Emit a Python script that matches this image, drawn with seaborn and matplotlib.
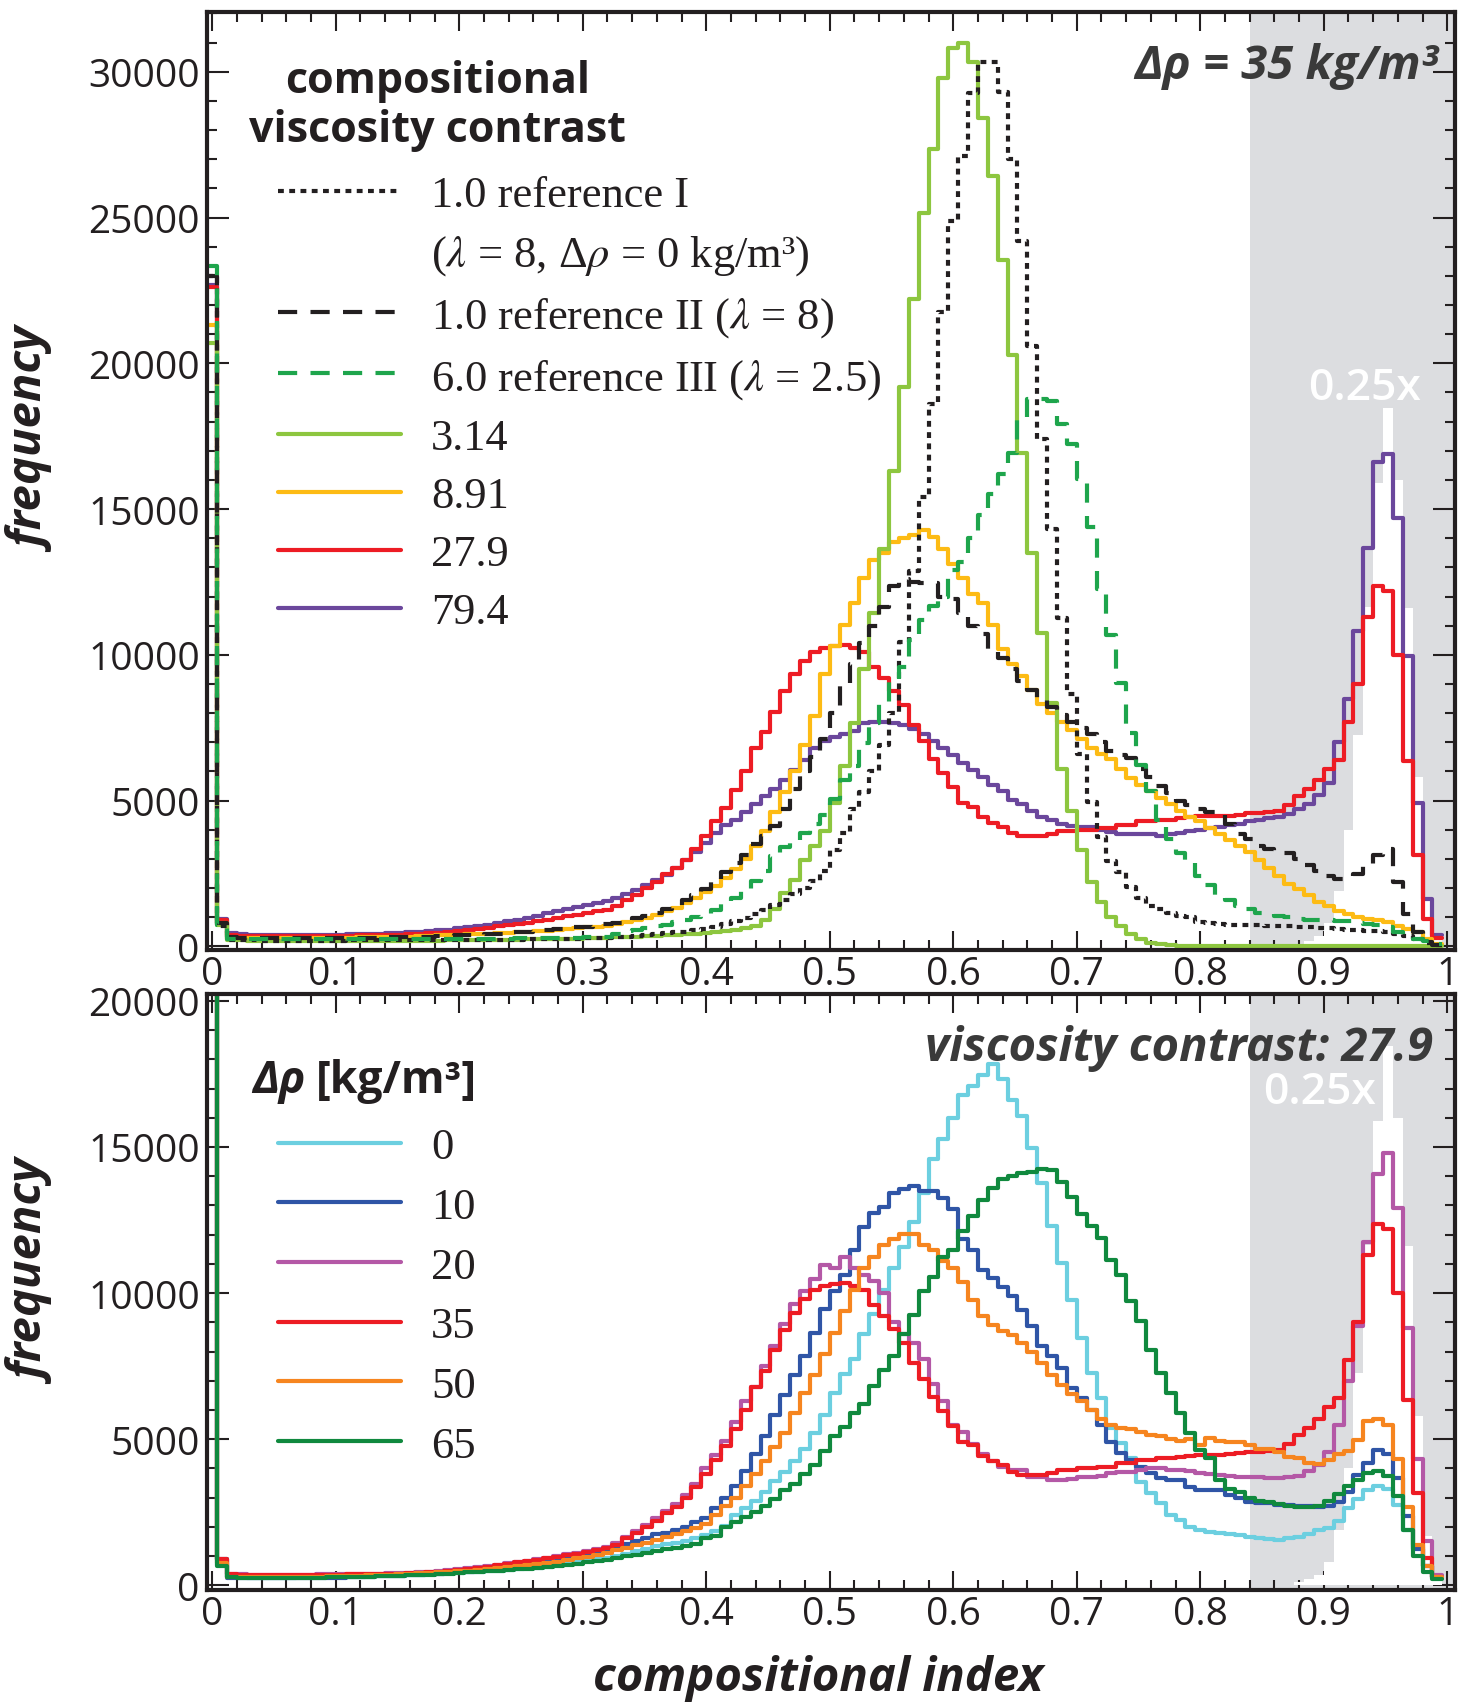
import numpy as np
import matplotlib
matplotlib.use("Agg")
import matplotlib.pyplot as plt
import seaborn as sns
from matplotlib.lines import Line2D
from matplotlib.ticker import MultipleLocator

# histogram of the compositional index: 125 bins of width 0.008 centred on k*0.008
BIN_WIDTH = 0.008
N_BINS = 125

# ---------------- top panel (delta rho = 35 kg/m3), counts per bin ----------------
REF_I = [
    23000, 700, 230, 220, 210, 200, 200, 200, 200, 200,
    200, 200, 200, 200, 205, 205, 210, 210, 210, 215,
    215, 220, 220, 225, 225, 230, 230, 230, 230, 230,
    230, 235, 240, 245, 250, 255, 260, 270, 280, 290,
    300, 320, 340, 365, 390, 420, 450, 480, 510, 550,
    600, 680, 760, 860, 970, 1100, 1250, 1420, 1600, 1800,
    2000, 2250, 2580, 3300, 3900, 4700, 5300, 6000, 6900, 8000,
    10430, 12880, 15400, 18600, 21750, 24890, 27125, 29280, 30330, 30330,
    29300, 27010, 24210, 20600, 17420, 14305, 11250, 8650, 6610, 4960,
    3750, 2920, 2540, 2030, 1650, 1400, 1300, 1140, 1050, 1000,
    850, 820, 760, 750, 740, 730, 720, 710, 700, 690,
    680, 660, 640, 620, 600, 580, 560, 540, 520, 480,
    420, 350, 250, 120, 40,
]
REF_II = [
    23000, 800, 320, 300, 290, 280, 280, 280, 280, 280,
    285, 285, 290, 290, 295, 300, 300, 305, 310, 315,
    320, 330, 340, 350, 360, 375, 390, 405, 420, 440,
    460, 480, 500, 530, 560, 590, 620, 650, 680, 720,
    760, 820, 880, 960, 1050, 1150, 1280, 1420, 1580, 1760,
    1980, 2250, 2550, 2860, 3150, 3500, 3800, 4120, 4700, 5400,
    6000, 6500, 7100, 8000, 9000, 9700, 10400, 11000, 11650, 12350,
    12600, 12500, 12450, 12450, 12000, 11900, 11450, 11000, 10700, 10200,
    9900, 9500, 9100, 8800, 8500, 8200, 7950, 7700, 7500, 7300,
    7000, 6700, 6550, 6450, 6100, 5800, 5500, 5250, 5000, 4850,
    4700, 4620, 4550, 4200, 3850, 3700, 3450, 3330, 3280, 3220,
    3000, 2800, 2600, 2400, 2300, 2350, 2480, 2800, 3120, 3330,
    2200, 1100, 500, 150, 50,
]
REF_III = [
    23350, 750, 260, 250, 240, 240, 240, 240, 240, 240,
    240, 240, 242, 242, 244, 244, 246, 246, 248, 248,
    250, 250, 255, 255, 260, 260, 262, 265, 265, 268,
    270, 275, 280, 285, 290, 295, 300, 305, 310, 315,
    330, 420, 515, 560, 620, 690, 750, 830, 915, 1000,
    1120, 1260, 1450, 1660, 1900, 2230, 2600, 3090, 3400, 3650,
    3890, 4200, 4520, 5040, 5700, 6180, 6980, 7670, 8400, 9160,
    9600, 10500, 11200, 11660, 12000, 12900, 13200, 14000, 14800, 15520,
    16190, 16930, 18100, 18770, 18760, 18700, 17930, 17230, 16020, 14370,
    12270, 10680, 9030, 7310, 6230, 5340, 4320, 3690, 3200, 2860,
    2400, 2100, 1780, 1600, 1400, 1300, 1150, 1100, 1050, 1000,
    950, 920, 900, 890, 880, 860, 820, 780, 750, 650,
    500, 400, 270, 200, 100,
]
VC_3_14 = [
    20700, 750, 230, 210, 200, 195, 190, 190, 185, 185,
    185, 185, 185, 185, 185, 185, 190, 190, 190, 190,
    195, 195, 200, 200, 205, 205, 210, 215, 220, 225,
    230, 235, 240, 245, 250, 255, 260, 270, 280, 290,
    300, 310, 320, 335, 350, 365, 380, 400, 420, 440,
    460, 490, 520, 560, 620, 700, 915, 1300, 1830, 2290,
    2980, 3435, 3950, 4920, 6180, 7670, 9500, 11450, 13620, 16320,
    19200, 22200, 25150, 27350, 29800, 30800, 31000, 30350, 28400, 26430,
    23550, 20300, 16930, 13500, 10740, 8345, 6100, 4640, 3300, 2225,
    1525, 1015, 700, 440, 250, 130, 80, 50, 30, 20,
    10, 10, 5, 0, 0, 0, 0, 0, 0, 0,
    0, 0, 0, 0, 0, 0, 0, 0, 0, 0,
    0, 0, 0, 0, 0,
]
VC_8_91 = [
    21300, 800, 300, 290, 285, 285, 285, 285, 285, 285,
    290, 290, 295, 300, 305, 310, 315, 320, 325, 330,
    340, 350, 360, 375, 390, 400, 410, 420, 430, 445,
    460, 480, 500, 520, 540, 565, 590, 620, 650, 680,
    700, 760, 830, 900, 990, 1080, 1200, 1330, 1480, 1650,
    1850, 2080, 2350, 2650, 3000, 3450, 3950, 4600, 5300, 6000,
    6900, 7900, 9330, 10310, 11040, 11780, 12640, 13250, 13500, 13860,
    14000, 14110, 14290, 14050, 13620, 13130, 12640, 12090, 11780, 11040,
    10190, 9690, 9270, 8800, 8300, 8000, 7690, 7440, 7120, 6800,
    6600, 6420, 6100, 5785, 5530, 5340, 5085, 4890, 4640, 4450,
    4300, 4050, 3850, 3650, 3450, 3250, 2950, 2700, 2400, 2150,
    1960, 1750, 1540, 1380, 1220, 1100, 1010, 950, 905, 850,
    695, 600, 485, 270, 80,
]
# viscosity contrast 27.9 with delta rho = 35: same run in both panels
VC_27_9 = [
    22600, 900, 380, 360, 350, 350, 350, 350, 350, 355,
    355, 360, 360, 365, 370, 375, 380, 385, 395, 400,
    410, 425, 445, 470, 500, 530, 560, 600, 640, 690,
    740, 780, 820, 865, 920, 980, 1030, 1080, 1150, 1200,
    1265, 1380, 1605, 1780, 2010, 2200, 2470, 2690, 2980, 3350,
    3800, 4300, 4750, 5350, 6000, 6800, 7350, 8050, 8750, 9330,
    9800, 10100, 10250, 10300, 10350, 10250, 10100, 9600, 9200, 8775,
    8280, 7610, 7060, 6445, 5955, 5465, 4915, 4795, 4425, 4245,
    4100, 3890, 3775, 3775, 3775, 3850, 3950, 3950, 4005, 4005,
    4060, 4060, 4180, 4180, 4290, 4290, 4350, 4350, 4405, 4430,
    4465, 4465, 4465, 4490, 4520, 4577, 4577, 4600, 4635, 4850,
    5150, 5400, 5700, 6100, 6400, 7700, 9000, 11300, 12350, 12200,
    10000, 6350, 3150, 950, 280,
]
VC_79_4 = [
    22700, 950, 450, 420, 400, 390, 385, 385, 385, 390,
    390, 395, 400, 405, 410, 420, 430, 440, 450, 465,
    480, 500, 520, 550, 580, 620, 660, 700, 750, 800,
    860, 920, 990, 1060, 1130, 1200, 1280, 1360, 1430, 1500,
    1550, 1650, 1800, 1950, 2100, 2280, 2450, 2680, 2950, 3250,
    3550, 3900, 4150, 4350, 4600, 4900, 5150, 5400, 5700, 6050,
    6400, 6800, 7050, 7200, 7300, 7400, 7650, 7700, 7700, 7650,
    7600, 7450, 7300, 7050, 6800, 6550, 6300, 6050, 5800, 5550,
    5340, 5020, 4890, 4640, 4450, 4320, 4190, 4130, 4100, 4080,
    4000, 3940, 3850, 3850, 3850, 3870, 3800, 3850, 3900, 3950,
    4000, 4050, 4100, 4150, 4200, 4300, 4350, 4400, 4450, 4550,
    4700, 4900, 5200, 5600, 7015, 8490, 10810, 13650, 16600, 16875,
    14700, 9965, 4910, 1640, 380,
]
# white "0.25x" histogram inside the grey band
SCALED_025 = [0] * 110 + [
    100, 200, 350, 800, 1900, 4000, 7250, 11650, 15900, 18450,
    16000, 11600, 5800, 1700, 300,
]

# ---------------- bottom panel (viscosity contrast 27.9), counts per bin ----------------
RHO_0 = [
    23000, 700, 280, 270, 265, 265, 265, 265, 265, 270,
    270, 275, 280, 285, 290, 300, 305, 315, 325, 335,
    345, 360, 375, 390, 410, 425, 440, 460, 480, 500,
    520, 545, 575, 605, 640, 690, 740, 790, 840, 900,
    950, 1010, 1080, 1160, 1250, 1330, 1400, 1460, 1530, 1610,
    1720, 1850, 2040, 2405, 2650, 2895, 3200, 3570, 3875, 4245,
    4670, 5220, 5835, 6570, 7240, 7735, 8590, 9300, 10100, 10850,
    11590, 12445, 13425, 14590, 15260, 15995, 16790, 17100, 17465, 17855,
    17340, 16610, 16060, 14980, 13775, 12290, 11035, 9775, 8465, 7265,
    6405, 5380, 4865, 4350, 3550, 3150, 2810, 2405, 2235, 2005,
    1900, 1835, 1780, 1750, 1720, 1650, 1610, 1570, 1550, 1610,
    1650, 1750, 1880, 1950, 2200, 2660, 2950, 3255, 3400, 3300,
    2750, 1880, 1305, 655, 300,
]
RHO_10 = [
    23000, 900, 260, 250, 245, 245, 245, 245, 250, 250,
    255, 255, 260, 265, 275, 285, 295, 305, 315, 330,
    345, 360, 380, 400, 420, 440, 465, 490, 520, 550,
    590, 630, 680, 730, 790, 850, 910, 980, 1050, 1130,
    1210, 1300, 1400, 1500, 1620, 1740, 1800, 1900, 2000, 2150,
    2300, 2650, 3000, 3400, 3900, 4500, 5100, 5835, 6505, 7180,
    7855, 8650, 9450, 10060, 10610, 11465, 12260, 12750, 12935, 13425,
    13545, 13670, 13485, 13485, 13240, 12875, 11835, 11465, 10800, 10500,
    10200, 9900, 9435, 8865, 8175, 7835, 7435, 6750, 6405, 6005,
    5490, 4920, 4520, 4300, 4060, 3835, 3665, 3605, 3605, 3380,
    3265, 3265, 3265, 3100, 2980, 2865, 2805, 2805, 2750, 2750,
    2720, 2700, 2680, 2700, 2850, 3180, 3760, 4190, 4625, 4480,
    3685, 2385, 1235, 655, 300,
]
RHO_20 = [
    23000, 850, 390, 370, 360, 360, 360, 360, 360, 365,
    365, 370, 375, 380, 385, 390, 395, 400, 410, 415,
    425, 440, 460, 485, 515, 545, 580, 620, 660, 705,
    750, 790, 835, 885, 940, 1000, 1055, 1110, 1180, 1240,
    1310, 1440, 1660, 1850, 2080, 2290, 2550, 2780, 3080, 3480,
    4000, 4450, 4950, 5600, 6300, 6800, 7500, 8200, 8950, 9630,
    10060, 10485, 10975, 10855, 11220, 10855, 10610, 10425, 9995, 9000,
    8600, 8300, 7750, 6900, 6300, 5500, 5250, 4850, 4500, 4245,
    4060, 3935, 3935, 3690, 3690, 3600, 3600, 3650, 3720, 3720,
    3750, 3850, 3890, 3890, 3950, 4000, 4005, 3950, 3950, 3900,
    3835, 3800, 3775, 3750, 3720, 3700, 3700, 3665, 3665, 3700,
    3750, 3900, 4100, 4550, 5500, 7000, 8880, 11760, 14070, 14795,
    12920, 8810, 4335, 1520, 365,
]
RHO_35 = VC_27_9
RHO_50 = [
    23000, 750, 300, 290, 285, 285, 285, 285, 290, 290,
    295, 300, 305, 310, 320, 330, 340, 350, 360, 375,
    390, 405, 420, 440, 460, 480, 500, 525, 550, 580,
    610, 645, 680, 720, 760, 810, 860, 920, 980, 1050,
    1120, 1200, 1280, 1370, 1460, 1550, 1650, 1750, 1850, 1950,
    2100, 2400, 2700, 3000, 3400, 3800, 4250, 4730, 5220, 5900,
    6570, 7180, 7915, 8650, 9385, 10120, 10855, 11220, 11650, 11835,
    12015, 12015, 11650, 11465, 11100, 10855, 10365, 9755, 9200, 8900,
    8700, 8550, 8300, 8000, 7600, 7200, 6850, 6550, 6300, 6000,
    5700, 5500, 5400, 5350, 5250, 5150, 5100, 5000, 4950, 5000,
    4800, 5050, 4950, 4900, 4900, 4800, 4650, 4650, 4550, 4400,
    4350, 4200, 4150, 4300, 4500, 4600, 4985, 5630, 5705, 5490,
    4335, 2680, 1380, 655, 300,
]
RHO_65 = [
    23500, 650, 280, 260, 255, 255, 255, 255, 260, 260,
    265, 265, 270, 275, 280, 290, 300, 310, 320, 330,
    340, 350, 365, 380, 400, 420, 440, 460, 480, 500,
    520, 545, 570, 600, 630, 660, 700, 740, 780, 830,
    880, 930, 990, 1050, 1110, 1170, 1230, 1290, 1350, 1425,
    1610, 1670, 1980, 2160, 2350, 2500, 2710, 2955, 3265, 3450,
    3815, 4120, 4610, 5100, 5405, 5895, 6200, 6815, 7365, 7855,
    8590, 9265, 10060, 10550, 11220, 11465, 12140, 12630, 13180, 13610,
    13900, 14000, 14100, 14150, 14250, 14200, 13800, 13300, 12700, 12300,
    11900, 11145, 10635, 9720, 9035, 8065, 7265, 6580, 5890, 5205,
    4635, 4350, 3605, 3300, 3200, 3000, 2900, 2850, 2780, 2720,
    2680, 2680, 2700, 2895, 3110, 3400, 3615, 3830, 3900, 3755,
    3040, 1880, 1015, 440, 220,
]

XTICKS = [0, 0.1, 0.2, 0.3, 0.4, 0.5, 0.6, 0.7, 0.8, 0.9, 1.0]
XTICK_LABELS = ["0", "0.1", "0.2", "0.3", "0.4", "0.5", "0.6", "0.7", "0.8", "0.9", "1"]
TOP_YTICKS = [0, 5000, 10000, 15000, 20000, 25000, 30000]
BOTTOM_YTICKS = [0, 5000, 10000, 15000, 20000]

TOP_LEGEND_LABELS = [
    "1.0 reference I",
    "($\\lambda$ = 8, \u0394$\\rho$ = 0 kg/m\u00b3)",
    "1.0 reference II ($\\lambda$ = 8)",
    "6.0 reference III ($\\lambda$ = 2.5)",
    "3.14", "8.91", "27.9", "79.4",
]
BOTTOM_LEGEND_LABELS = ["0", "10", "20", "35", "50", "65"]

# colours / styles
INK = "#231f20"
GREY_TXT = "#3a3a3a"
BAND = "#dcdde0"
C_LGREEN = "#8dc63f"
C_YELLOW = "#fdbb14"
C_RED = "#ed1c24"
C_PURPLE = "#6b479c"
C_GDASH = "#1ea54c"
C_CYAN = "#6ccfe0"
C_BLUE = "#2f55a6"
C_MAGENTA = "#b458a6"
C_ORANGE = "#f6851f"
C_DGREEN = "#10893e"
LW = 3.0
DOT = (0, (1.4, 1.3))
DASH = (0, (4.6, 3.2))

sns.set_style("ticks")
plt.rcParams["font.family"] = ["Open Sans", "DejaVu Sans"]
plt.rcParams["mathtext.fontset"] = "stix"

edges = (np.arange(N_BINS + 1) * BIN_WIDTH - BIN_WIDTH / 2).tolist()
centres = np.arange(N_BINS) * BIN_WIDTH

fig = plt.figure(figsize=(14.58, 17.06), dpi=100)
ax_top = fig.add_axes([0.1418, 0.4426, 0.8559, 0.5498])
ax_bot = fig.add_axes([0.1418, 0.0676, 0.8559, 0.3489])


def step_hist(ax, counts, color, ls="-", z=3):
    sns.histplot(x=centres, weights=counts, bins=edges, element="step", fill=False,
                 color=color, linestyle=ls, linewidth=LW, ax=ax, zorder=z)


for ax in (ax_top, ax_bot):
    ax.axvspan(0.84, 1.1, facecolor=BAND, edgecolor="none", zorder=0)
    sns.histplot(x=centres, weights=SCALED_025, bins=edges, element="step", fill=True,
                 color="white", alpha=1, linewidth=0, ax=ax, zorder=1)

# top panel
step_hist(ax_top, VC_79_4, C_PURPLE)
step_hist(ax_top, VC_27_9, C_RED)
step_hist(ax_top, VC_8_91, C_YELLOW)
step_hist(ax_top, VC_3_14, C_LGREEN)
step_hist(ax_top, REF_I, INK, DOT)
step_hist(ax_top, REF_II, INK, DASH)
step_hist(ax_top, REF_III, C_GDASH, DASH)

# bottom panel
step_hist(ax_bot, RHO_0, C_CYAN)
step_hist(ax_bot, RHO_10, C_BLUE)
step_hist(ax_bot, RHO_20, C_MAGENTA)
step_hist(ax_bot, RHO_35, C_RED)
step_hist(ax_bot, RHO_50, C_ORANGE)
step_hist(ax_bot, RHO_65, C_DGREEN)

ax_top.set_ylim(-120, 32050)
ax_bot.set_ylim(-150, 20220)
ax_top.set_yticks(TOP_YTICKS)
ax_bot.set_yticks(BOTTOM_YTICKS)

for ax in (ax_top, ax_bot):
    ax.set_xlim(-0.0045, 1.006)
    ax.set_xticks(XTICKS, XTICK_LABELS)
    ax.xaxis.set_minor_locator(MultipleLocator(0.02))
    ax.yaxis.set_minor_locator(MultipleLocator(1000))
    ax.tick_params(which="both", direction="in", top=True, right=True,
                   width=1.5, color=INK, labelcolor=INK, labelsize=28)
    ax.tick_params(axis="x", which="major", length=14, pad=4)
    ax.tick_params(axis="y", which="major", length=16, pad=5)
    ax.tick_params(which="minor", length=7)
    for sp in ax.spines.values():
        sp.set_linewidth(3)
        sp.set_color(INK)
        sp.set_zorder(5)
    ax.set_xlabel("")
    ax.set_ylabel("frequency", fontsize=34, fontweight="bold", fontstyle="italic", color=INK)

ax_top.yaxis.set_label_coords(-0.12, 0.544)
ax_bot.yaxis.set_label_coords(-0.12, 0.534)
ax_bot.set_xlabel("compositional index", fontsize=34, fontweight="bold",
                  fontstyle="italic", color=INK)
ax_bot.xaxis.set_label_coords(0.49, -0.108)

# legends
serif = {"family": "Liberation Serif", "size": 32}
leg_kw = dict(loc="upper left", frameon=False, borderpad=0, borderaxespad=0,
              handlelength=2.77, handletextpad=0.69, prop=serif)

top_handles = [
    Line2D([], [], color=INK, ls=DOT, lw=LW),
    Line2D([], [], color="none"),
    Line2D([], [], color=INK, ls=DASH, lw=LW),
    Line2D([], [], color=C_GDASH, ls=DASH, lw=LW),
    Line2D([], [], color=C_LGREEN, lw=LW),
    Line2D([], [], color=C_YELLOW, lw=LW),
    Line2D([], [], color=C_RED, lw=LW),
    Line2D([], [], color=C_PURPLE, lw=LW),
]
leg = ax_top.legend(top_handles, TOP_LEGEND_LABELS, bbox_to_anchor=(0.0567, 0.826),
                    labelspacing=0.40, **leg_kw)
for t in leg.get_texts():
    t.set_color(INK)

bot_handles = [Line2D([], [], color=c, lw=LW)
               for c in (C_CYAN, C_BLUE, C_MAGENTA, C_RED, C_ORANGE, C_DGREEN)]
leg2 = ax_bot.legend(bot_handles, BOTTOM_LEGEND_LABELS, bbox_to_anchor=(0.0567, 0.777),
                     labelspacing=0.44, **leg_kw)
for t in leg2.get_texts():
    t.set_color(INK)

# legend titles and annotations
ax_top.text(0.1848, 0.9142, "compositional", transform=ax_top.transAxes, ha="center",
            va="baseline", fontsize=31, fontweight="bold", color=INK)
ax_top.text(0.1848, 0.862, "viscosity contrast", transform=ax_top.transAxes, ha="center",
            va="baseline", fontsize=31, fontweight="bold", color=INK)
ax_bot.text(0.0366, 0.836, "\u0394\u03c1", transform=ax_bot.transAxes, ha="left",
            va="baseline", fontsize=32, fontweight="bold", fontstyle="italic", color=INK)
ax_bot.text(0.0872, 0.836, "[kg/m\u00b3]", transform=ax_bot.transAxes, ha="left",
            va="baseline", fontsize=32, fontweight="bold", color=INK)

ax_top.text(0.987, 0.930, "\u0394\u03c1 = 35 kg/m\u00b3", transform=ax_top.transAxes,
            ha="right", va="baseline", fontsize=34, fontweight="bold", fontstyle="italic",
            color=GREY_TXT, zorder=6)
ax_bot.text(0.983, 0.890, "viscosity contrast: 27.9", transform=ax_bot.transAxes,
            ha="right", va="baseline", fontsize=34, fontweight="bold", fontstyle="italic",
            color=GREY_TXT, zorder=6)
ax_top.text(0.9276, 0.587, "0.25x", transform=ax_top.transAxes, ha="center",
            va="baseline", fontsize=32, fontweight="semibold", color="white", zorder=6)
ax_bot.text(0.892, 0.817, "0.25x", transform=ax_bot.transAxes, ha="center",
            va="baseline", fontsize=32, fontweight="semibold", color="white", zorder=6)

fig.savefig("out.png", dpi=100)
